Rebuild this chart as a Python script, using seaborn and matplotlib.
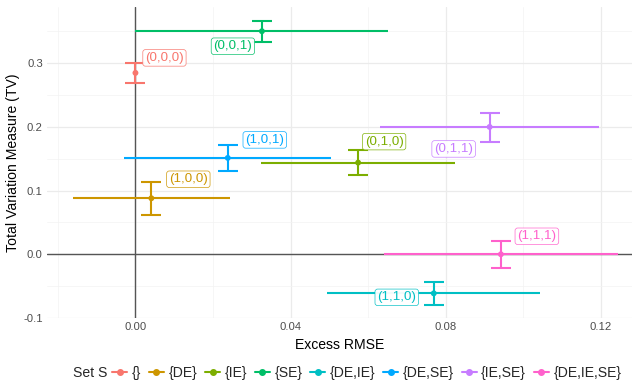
import matplotlib
matplotlib.use("Agg")
import matplotlib.pyplot as plt
import matplotlib.ticker as mticker
import seaborn as sns
import pandas as pd
from matplotlib.lines import Line2D

# ---- data ----
sets = ["{}", "{DE}", "{IE}", "{SE}", "{DE,IE}", "{DE,SE}", "{IE,SE}", "{DE,IE,SE}"]
codes = ["(0,0,0)", "(1,0,0)", "(0,1,0)", "(0,0,1)", "(1,1,0)", "(1,0,1)", "(0,1,1)", "(1,1,1)"]
rmse = [0.0, 0.0041, 0.0574, 0.0326, 0.0769, 0.0238, 0.0913, 0.0942]
rmse_lo = [0.0, -0.0161, 0.0323, 0.0, 0.0494, -0.0029, 0.0630, 0.0640]
rmse_hi = [0.0, 0.0243, 0.0825, 0.0652, 0.1044, 0.0504, 0.1196, 0.1244]
tv = [0.2846, 0.0879, 0.1438, 0.350, -0.0613, 0.1512, 0.1998, 0.0]
tv_lo = [0.2694, 0.0617, 0.1240, 0.3328, -0.0796, 0.1312, 0.1768, -0.0220]
tv_hi = [0.2998, 0.1140, 0.1637, 0.3667, -0.0435, 0.1716, 0.2223, 0.0209]

palette = ["#F8766D", "#CD9600", "#7CAE00", "#00BE67",
           "#00BFC4", "#00A9FF", "#C77CFF", "#FF61CC"]
# label offsets from the point, in pixels (x right, y up)
label_dx = [29, 37, 26, -29, -37, 37, -36, 36]
label_dy = [15, 19, 21, -15, -4, 18, -22, 18]

df = pd.DataFrame({"set": sets, "code": codes, "rmse": rmse, "tv": tv,
                   "rmse_lo": rmse_lo, "rmse_hi": rmse_hi,
                   "tv_lo": tv_lo, "tv_hi": tv_hi})

sns.set_theme(style="white")
plt.rcParams["font.family"] = ["Liberation Sans", "DejaVu Sans"]

fig = plt.figure(figsize=(6.37, 3.83), dpi=100)
ax = fig.add_axes([47 / 637, 65 / 383, 585 / 637, 311 / 383])

ax.set_xlim(-0.0228, 0.128)
ax.set_ylim(-0.100, 0.388)

ax.xaxis.set_major_locator(mticker.MultipleLocator(0.04))
ax.xaxis.set_minor_locator(mticker.MultipleLocator(0.02))
ax.yaxis.set_major_locator(mticker.MultipleLocator(0.1))
ax.yaxis.set_minor_locator(mticker.MultipleLocator(0.05))
ax.xaxis.set_major_formatter(mticker.FuncFormatter(lambda v, p: f"{v:.2f}"))
ax.yaxis.set_major_formatter(mticker.FuncFormatter(lambda v, p: f"{v:.1f}"))

ax.grid(True, which="major", color="#EBEBEB", linewidth=0.9)
ax.grid(True, which="minor", color="#F3F3F3", linewidth=0.5)
ax.set_axisbelow(True)
for s in ax.spines.values():
    s.set_visible(False)
ax.tick_params(axis="both", which="both", length=0, labelsize=8.1,
               labelcolor="#4D4D4D", pad=3)

ax.axhline(0, color="#555555", linewidth=1.0, zorder=1)
ax.axvline(0, color="#555555", linewidth=1.0, zorder=1)

for i, row in df.iterrows():
    c = palette[i]
    ax.errorbar(row["rmse"], row["tv"],
                xerr=[[row["rmse"] - row["rmse_lo"]], [row["rmse_hi"] - row["rmse"]]],
                fmt="none", ecolor=c, elinewidth=1.5, capsize=0, zorder=2)
    ax.errorbar(row["rmse"], row["tv"],
                yerr=[[row["tv"] - row["tv_lo"]], [row["tv_hi"] - row["tv"]]],
                fmt="none", ecolor=c, elinewidth=1.5, capsize=7, capthick=1.5, zorder=3)

sns.scatterplot(data=df, x="rmse", y="tv", hue="set", palette=palette,
                hue_order=sets, s=18, linewidth=0, legend=False, ax=ax, zorder=4)

for i, row in df.iterrows():
    c = palette[i]
    ax.annotate(row["code"], (row["rmse"], row["tv"]),
                xytext=(label_dx[i], label_dy[i]), textcoords="offset pixels",
                ha="center", va="center", fontsize=9.6, color=c, zorder=5,
                bbox=dict(boxstyle="round,pad=0.17,rounding_size=0.2",
                          fc="white", ec=c, lw=0.5, alpha=0.95))

ax.set_xlabel("Excess RMSE", fontsize=10.1, color="black", labelpad=4)
ax.set_ylabel("Total Variation Measure (TV)", fontsize=10.1, color="black", labelpad=2)

handles = [Line2D([0], [0], color=c, lw=1.5, marker="o", markersize=4) for c in palette]
fig.text(73 / 637, 1 - 373 / 383, "Set S", fontsize=10.1, va="center", ha="left")
fig.legend(handles, sets, loc="center left", bbox_to_anchor=(112 / 637, 1 - 373 / 383),
           ncol=8, frameon=False, fontsize=10.1, handlelength=1.1,
           handletextpad=0.3, columnspacing=0.55, borderpad=0, borderaxespad=0)

fig.savefig("out.png", dpi=100)
